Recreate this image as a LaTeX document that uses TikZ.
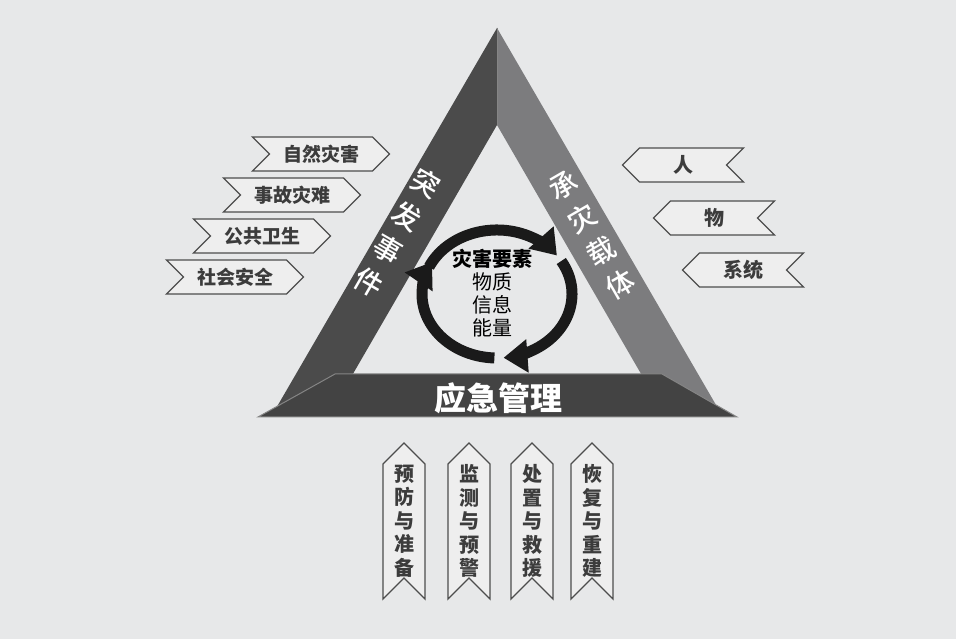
\documentclass[tikz,border=0pt]{standalone}
\usepackage{fontspec}
\setmainfont{Noto Sans CJK SC}
\newfontfamily\medfont{Noto Sans CJK SC Medium}
\usetikzlibrary{shapes.symbols,arrows.meta}
\definecolor{bgcol}{HTML}{E7E8E9}
\definecolor{leftband}{HTML}{4B4B4B}
\definecolor{rightband}{HTML}{7C7C7E}
\definecolor{barcol}{HTML}{434343}
\definecolor{barline}{HTML}{858585}
\definecolor{ringcol}{HTML}{1A1A1A}
\definecolor{labeltext}{HTML}{3C3C3C}
\definecolor{labelline}{HTML}{4D4D4D}
\definecolor{labelfill}{HTML}{EEEEEE}
\tikzset{
  hazard/.style={signal,signal to=east,signal from=west,draw=labelline,fill=labelfill,
    line width=1.3pt,minimum width=137pt,minimum height=34pt,inner sep=0pt,
    text=labeltext,font=\bfseries\fontsize{19}{19}\selectfont},
  carrier/.style={hazard,signal to=west,signal from=east,minimum width=121pt,
    font=\bfseries\fontsize{20}{20}\selectfont},
  phase/.style={signal,signal to=north,signal from=south,draw=labelline,fill=labelfill,
    line width=1.3pt,minimum width=42pt,minimum height=114pt,inner sep=0pt},
  phasetext/.style={align=center,inner sep=0pt,text=labeltext,
    font=\bfseries\fontsize{20}{23.5}\selectfont},
  bandtext/.style={text=white,align=center,inner sep=0pt,font=\medfont\fontsize{28}{38}\selectfont},
  ring/.style={draw=ringcol,line width=11pt,-{Triangle[length=24pt,width=32pt]}}
}
\begin{document}
\begin{tikzpicture}[x=1pt,y=1pt]
\fill[bgcol] (0,0) rectangle (956,639);

% triangle
\fill[leftband] (497,611) -- (271,222) -- (328,222) -- (497,514) -- cycle;
\fill[rightband] (497,611) -- (723,222) -- (666,222) -- (497,514) -- cycle;
\draw[barline,line width=0.8pt] (497,611) -- (497,514);
\filldraw[fill=barcol,draw=barline,line width=1pt] (258,222) -- (335,265) -- (662,265) -- (737,222) -- cycle;

\node[bandtext,rotate=-30] (event) at (397,406) {突\\发\\事\\件};
\node[bandtext,rotate=30] (bearer) at (592,404) {承\\灾\\载\\体};
\node[text=white,font=\bfseries\fontsize{32}{32}\selectfont] (mgmt) at (498,241) {应急管理};

% cycle
\coordinate (c) at (497,345);
\draw[ring] ([shift={(155:75 and 64)}]c) arc[start angle=155,end angle=37,x radius=75,y radius=64];
\draw[ring] ([shift={(31:75 and 64)}]c) arc[start angle=31,end angle=-85,x radius=75,y radius=64];
\draw[ring] ([shift={(-92:75 and 64)}]c) arc[start angle=-92,end angle=-210,x radius=75,y radius=64];
\node[align=center,inner sep=0pt,font=\fontsize{20}{23}\selectfont] (core) at (492,346)
  {\textbf{灾害要素}\\物质\\信息\\能量};

% events
\node[hazard] (natural) at (321,485) {自然灾害};
\node[hazard] (accident) at (292,444) {事故灾难};
\node[hazard] (health) at (262,403) {公共卫生};
\node[hazard] (safety) at (235,362) {社会安全};

% carriers
\node[carrier] (people) at (683,474) {人};
\node[carrier] (things) at (714,421) {物};
\node[carrier] (system) at (743,369) {系统};

% phases
\node[phase,label={[phasetext]center:预\\防\\与\\准\\备}] (prevent) at (404,118) {};
\node[phase,label={[phasetext]center:监\\测\\与\\预\\警}] (monitor) at (469,118) {};
\node[phase,label={[phasetext]center:处\\置\\与\\救\\援}] (rescue) at (532,118) {};
\node[phase,label={[phasetext]center:恢\\复\\与\\重\\建}] (rebuild) at (592,118) {};
\end{tikzpicture}
\end{document}
